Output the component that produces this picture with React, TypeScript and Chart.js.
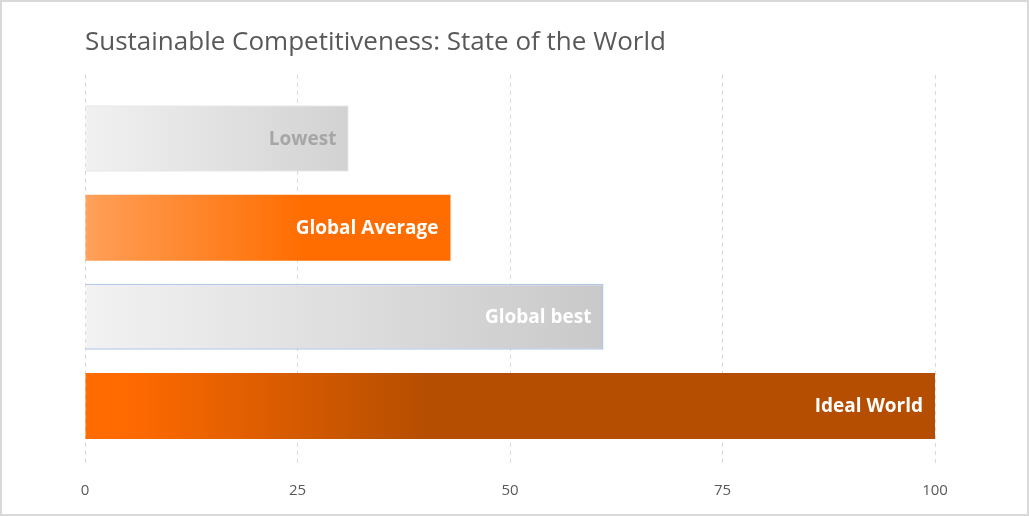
import React, { useEffect, useRef } from "react";
import { Chart, registerables } from "chart.js";

Chart.register(...registerables);

const categories = ["Lowest", "Global Average", "Global best", "Ideal World"];
const values = [31, 43, 61, 100];
const xTickValues = [0, 25, 50, 75, 100];
const chartTitle = "Sustainable Competitiveness: State of the World";

const FONT = "'Open Sans', 'DejaVu Sans', sans-serif";

// gradient styles per bar (offset, colour)
const gradients: [number, string][][] = [
  [[0, "#f1f1f1"], [1, "#d2d2d2"]],
  [[0, "#ffa35e"], [0.04, "#ff9c52"], [0.6, "#ff6d00"], [1, "#ff6d00"]],
  [[0, "#f2f2f2"], [1, "#c9c9c9"]],
  [[0, "#ff6c00"], [0.05, "#ff6a00"], [0.4, "#b54e00"], [1, "#b54e00"]],
];
const fallbackColors = ["#e0e0e0", "#ff7a1a", "#dcdcdc", "#d05a00"];
const borderColors = ["#cfcfcf", "#ff6d00", "#b4c7e7", "#b54e00"];
const borderWidths = [1, 0, 1.5, 0];
const labelColors = ["#a6a6a6", "#ffffff", "#ffffff", "#ffffff"];

const barLabelPlugin = {
  id: "barLabels",
  afterDatasetsDraw(chart: any) {
    const ctx = chart.ctx;
    const meta = chart.getDatasetMeta(0);
    ctx.save();
    ctx.font = `bold 19px ${FONT}`;
    ctx.textAlign = "right";
    ctx.textBaseline = "middle";
    meta.data.forEach((el: any, i: number) => {
      ctx.fillStyle = labelColors[i];
      ctx.fillText(categories[i], el.x - 12, el.y + 1);
    });
    ctx.restore();
  },
};

export default function App() {
  const ref = useRef<HTMLCanvasElement>(null);

  useEffect(() => {
    if (!ref.current) return;
    const chart = new Chart(ref.current, {
      type: "bar",
      data: {
        datasets: [
          {
            data: values.map((v, i) => ({ x: v, y: i })),
            backgroundColor: (c: any) => {
              const i = c.dataIndex;
              const area = c.chart.chartArea;
              const xs = c.chart.scales?.x;
              if (!area || !xs) return fallbackColors[i];
              const x0 = xs.getPixelForValue(0);
              const x1 = xs.getPixelForValue(values[i]);
              const g = c.chart.ctx.createLinearGradient(x0, 0, x1, 0);
              gradients[i].forEach(([o, col]) => g.addColorStop(o, col));
              return g;
            },
            borderColor: borderColors,
            borderWidth: borderWidths,
            barPercentage: 0.74,
            categoryPercentage: 1,
          },
        ],
      },
      options: {
        indexAxis: "y",
        animation: false,
        responsive: true,
        maintainAspectRatio: false,
        layout: { padding: { left: 83, right: 92, top: 0, bottom: -1 } },
        plugins: {
          legend: { display: false },
          tooltip: { enabled: false },
          title: {
            display: true,
            text: chartTitle,
            align: "start",
            color: "#595959",
            font: { family: FONT, size: 26, weight: "normal", lineHeight: 1.2 },
            padding: { top: 25.4, bottom: 16.4 },
          },
        },
        scales: {
          x: {
            type: "linear",
            min: 0,
            max: 100,
            afterBuildTicks: (s: any) => {
              s.ticks = xTickValues.map((v) => ({ value: v }));
            },
            grid: {
              color: "#d9d9d9",
              lineWidth: 1,
              drawTicks: false,
            },
            border: { display: false, dash: [4, 4] },
            ticks: {
              color: "#595959",
              padding: 15,
              font: { family: FONT, size: 15, lineHeight: 1.2 },
            },
          },
          y: {
            type: "linear",
            min: -0.712,
            max: 3.684,
            reverse: true,
            display: false,
            offset: false,
            grid: { offset: false },
            afterBuildTicks: (s: any) => {
              s.ticks = categories.map((_, i) => ({ value: i }));
            },
          },
        },
      },
      plugins: [barLabelPlugin],
    } as any);
    return () => chart.destroy();
  }, []);

  return (
    <div
      style={{
        position: "absolute",
        left: 0,
        top: 0,
        width: 1029,
        height: 516,
        boxSizing: "border-box",
        border: "2px solid #d9d9d9",
        background: "#ffffff",
      }}
    >
      <div style={{ position: "relative", width: "100%", height: "100%" }}>
        <canvas ref={ref} />
      </div>
    </div>
  );
}
